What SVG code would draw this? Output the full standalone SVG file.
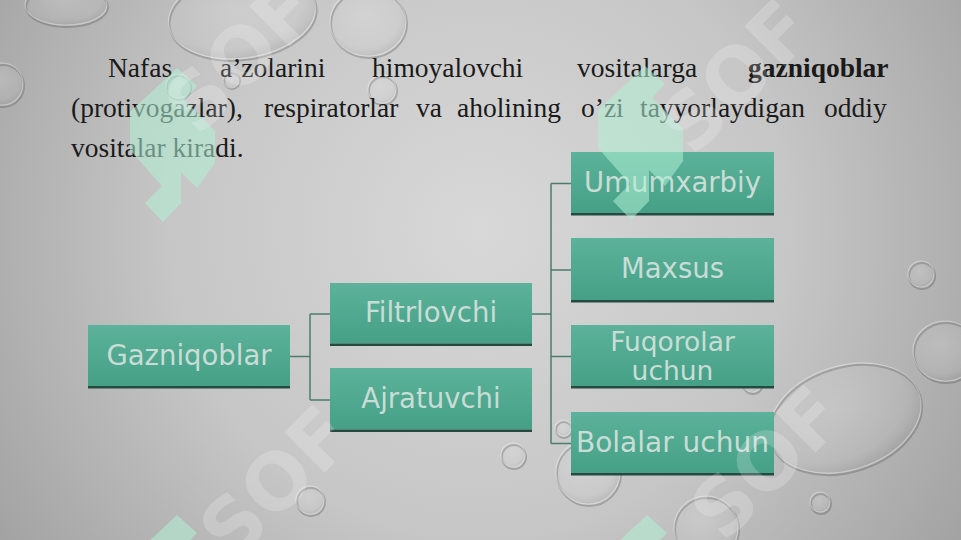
<svg xmlns="http://www.w3.org/2000/svg" width="961" height="540" viewBox="0 0 961 540">
<defs>
<radialGradient id="bg" cx="480" cy="230" r="620" gradientUnits="userSpaceOnUse">
<stop offset="0" stop-color="#d8d8d8"/>
<stop offset="0.5" stop-color="#c6c6c6"/>
<stop offset="1" stop-color="#9c9c9c"/>
</radialGradient>
<linearGradient id="box" x1="0" y1="0" x2="0" y2="1">
<stop offset="0" stop-color="#5cb29a"/>
<stop offset="1" stop-color="#45a086"/>
</linearGradient>
<radialGradient id="dropg" cx="0.45" cy="0.4" r="0.62">
<stop offset="0" stop-color="#ffffff" stop-opacity="0.16"/>
<stop offset="0.75" stop-color="#ffffff" stop-opacity="0.05"/>
<stop offset="1" stop-color="#000000" stop-opacity="0.08"/>
</radialGradient>
<polygon id="logo" points="177,68 197,86 184,100 215,131 215,163 197,188 181,172 181,203 163,222 145,203 162,186 130,150 130,112 160,84"/>
</defs>
<style>
.shadow{fill:none;stroke:#4a4a4a;stroke-opacity:.3;stroke-width:2}
.drop{fill:url(#dropg);stroke:#ffffff;stroke-opacity:.35;stroke-width:1.2}
.logo{fill:#b0f0d5;fill-opacity:.55}
.wm{font-family:"DejaVu Sans",sans-serif;font-weight:bold;font-size:78px;fill:#ffffff;fill-opacity:.2}
.body{font-family:"Liberation Serif","Times New Roman",serif;font-size:27.5px;fill:#1a1a1a}
.box{fill:url(#box)}
.base{fill:#264a40}
.lbl{font-family:"DejaVu Sans",Verdana,sans-serif;font-size:27.5px;fill:#c9ddd6;text-anchor:middle}
.conn{fill:none;stroke:#4d7c6d;stroke-width:1.5}
</style>

<rect x="0" y="0" width="961" height="540" fill="url(#bg)"/>

<g id="drops">
<ellipse class="shadow" cx="67" cy="7" rx="41" ry="20"/><ellipse class="drop" cx="66" cy="5" rx="41" ry="20"/>
<ellipse class="shadow" cx="243" cy="17" rx="74" ry="43" transform="rotate(-8 243 17)"/><ellipse class="drop" cx="242" cy="15" rx="74" ry="43" transform="rotate(-8 242 15)"/>
<ellipse class="shadow" cx="369" cy="24" rx="38" ry="34"/><ellipse class="drop" cx="368" cy="22" rx="38" ry="34"/>
<circle class="shadow" cx="3" cy="86" r="21"/><circle class="drop" cx="2" cy="84" r="21"/>
<circle class="shadow" cx="179" cy="88" r="12"/><circle class="drop" cx="178" cy="86" r="12"/>
<circle class="shadow" cx="232" cy="81" r="8"/><circle class="drop" cx="231" cy="80" r="8"/>
<circle class="shadow" cx="383" cy="91" r="14"/><circle class="drop" cx="382" cy="89" r="14"/>
<circle class="shadow" cx="922" cy="276" r="13"/><circle class="drop" cx="921" cy="274" r="13"/>
<ellipse class="shadow" cx="946" cy="353" rx="32" ry="30"/><ellipse class="drop" cx="945" cy="351" rx="32" ry="30"/>
<ellipse class="shadow" cx="846" cy="420" rx="78" ry="52" transform="rotate(-18 846 420)"/><ellipse class="drop" cx="845" cy="418" rx="78" ry="52" transform="rotate(-18 845 418)"/>
<circle class="shadow" cx="821" cy="504" r="10"/><circle class="drop" cx="820" cy="502" r="10"/>
<circle class="shadow" cx="514" cy="457" r="12"/><circle class="drop" cx="513" cy="455" r="12"/>
<circle class="shadow" cx="311" cy="502" r="14"/><circle class="drop" cx="310" cy="500" r="14"/>
<circle class="shadow" cx="589" cy="474" r="32"/><circle class="drop" cx="588" cy="472" r="32"/>
<circle class="shadow" cx="707" cy="530" r="32"/><circle class="drop" cx="706" cy="528" r="32"/>
<circle class="shadow" cx="564" cy="430" r="8"/><circle class="drop" cx="563" cy="428" r="8"/>
<circle class="shadow" cx="753" cy="384" r="10"/><circle class="drop" cx="752" cy="382" r="10"/>
</g>

<g id="text">
<text class="body" y="77"><tspan x="108">Nafas</tspan><tspan x="220">a’zolarini</tspan><tspan x="372">himoyalovchi</tspan><tspan x="577">vositalarga</tspan><tspan x="748" font-weight="bold">gazniqoblar</tspan></text>
<text class="body" y="117"><tspan x="71">(protivogazlar),</tspan><tspan x="264">respiratorlar</tspan><tspan x="416">va</tspan><tspan x="457">aholining</tspan><tspan x="581">o’zi</tspan><tspan x="640">tayyorlaydigan</tspan><tspan x="824">oddiy</tspan></text>
<text class="body" x="71" y="157">vositalar kiradi.</text>
</g>

<g id="connectors">
<path class="conn" d="M290,356.5 H310 M310,314 V400 M310,314 H330 M310,400 H330"/>
<path class="conn" d="M532,314 H551 M551,183.5 V443.5 M551,183.5 H571 M551,270 H571 M551,356.5 H571 M551,443.5 H571"/>
</g>

<g id="node-gazniqoblar">
<rect class="box" x="88" y="325" width="202" height="61"/><rect class="base" x="88" y="386" width="202" height="2.5"/>
<text class="lbl" x="189" y="365">Gazniqoblar</text>
</g>
<g id="node-filtrlovchi">
<rect class="box" x="330" y="283" width="202" height="60.5"/><rect class="base" x="330" y="343.5" width="202" height="2.5"/>
<text class="lbl" x="431" y="322">Filtrlovchi</text>
</g>
<g id="node-ajratuvchi">
<rect class="box" x="330" y="368" width="202" height="61.5"/><rect class="base" x="330" y="429.5" width="202" height="2.5"/>
<text class="lbl" x="431" y="408">Ajratuvchi</text>
</g>
<g id="node-umumxarbiy">
<rect class="box" x="571" y="152" width="203" height="61"/><rect class="base" x="571" y="213" width="203" height="2.5"/>
<text class="lbl" x="672.5" y="192">Umumxarbiy</text>
</g>
<g id="node-maxsus">
<rect class="box" x="571" y="238" width="203" height="62"/><rect class="base" x="571" y="300" width="203" height="2.5"/>
<text class="lbl" x="672.5" y="278">Maxsus</text>
</g>
<g id="node-fuqorolar">
<rect class="box" x="571" y="325" width="203" height="61"/><rect class="base" x="571" y="386" width="203" height="2.5"/>
<text class="lbl" style="font-size:26.5px"><tspan x="672.5" y="351">Fuqorolar</tspan><tspan x="672.5" y="379.5">uchun</tspan></text>
</g>
<g id="node-bolalar">
<rect class="box" x="571" y="412" width="203" height="61"/><rect class="base" x="571" y="473" width="203" height="2.5"/>
<text class="lbl" x="672.5" y="452" style="font-size:28px">Bolalar uchun</text>
</g>

<g id="watermark">
<use href="#logo" class="logo"/>
<use href="#logo" class="logo" transform="translate(468,-2)"/>
<use href="#logo" class="logo" transform="translate(0,447)"/>
<use href="#logo" class="logo" transform="translate(470,447)"/>
<text class="wm" transform="translate(198,138) rotate(-45)">SOF</text>
<text class="wm" transform="translate(693,158) rotate(-45)">SOF</text>
<text class="wm" transform="translate(233,564) rotate(-45)">SOF</text>
<text class="wm" transform="translate(724,544) rotate(-45)">SOF</text>
</g>
</svg>
